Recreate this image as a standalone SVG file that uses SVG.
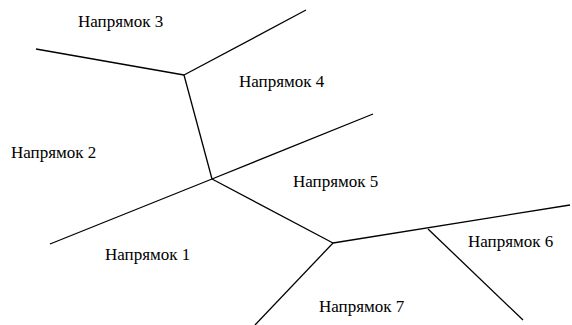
<svg xmlns="http://www.w3.org/2000/svg" width="572" height="325" viewBox="0 0 572 325">
<style>
.l{stroke:#000;stroke-width:1.3;fill:none;stroke-linecap:butt}
.t{font-family:"Liberation Serif","Times New Roman",serif;font-size:17px;fill:#000}
</style>
<rect width="572" height="325" fill="#fff"/>
<g id="connectors">
<line class="l" x1="36" y1="49" x2="184" y2="75"/>
<line class="l" x1="184" y1="75" x2="306" y2="10"/>
<line class="l" x1="184" y1="75" x2="212" y2="179"/>
<line class="l" x1="212" y1="179" x2="50" y2="244"/>
<line class="l" x1="212" y1="179" x2="373" y2="114"/>
<line class="l" x1="212" y1="179" x2="333" y2="243"/>
<line class="l" x1="333" y1="243" x2="570" y2="205"/>
<line class="l" x1="333" y1="243" x2="255" y2="325"/>
<line class="l" x1="428" y1="229" x2="523" y2="320"/>
</g>
<g id="n3"><text class="t" x="78" y="27">Напрямок 3</text></g>
<g id="n4"><text class="t" x="239" y="87">Напрямок 4</text></g>
<g id="n2"><text class="t" x="11" y="158">Напрямок 2</text></g>
<g id="n5"><text class="t" x="293" y="187">Напрямок 5</text></g>
<g id="n1"><text class="t" x="105" y="260">Напрямок 1</text></g>
<g id="n6"><text class="t" x="468" y="247">Напрямок 6</text></g>
<g id="n7"><text class="t" x="319" y="312">Напрямок 7</text></g>
</svg>
